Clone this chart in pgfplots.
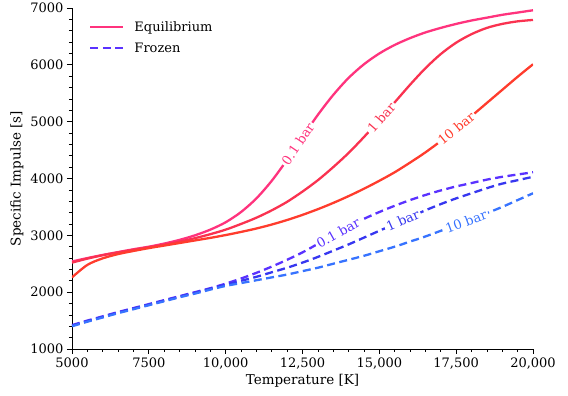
\documentclass[border=0pt]{standalone}
\usepackage{fontspec}
\setmainfont{DejaVu Serif}
\usepackage{pgfplots}
\pgfplotsset{compat=1.18}
\definecolor{eqa}{RGB}{255,51,125}
\definecolor{eqb}{RGB}{250,50,80}
\definecolor{eqc}{RGB}{255,60,45}
\definecolor{fra}{RGB}{90,50,255}
\definecolor{frb}{RGB}{55,55,240}
\definecolor{frc}{RGB}{55,115,255}
\tikzset{lbl/.style={pos=#1, sloped, fill=white, inner sep=2pt, font=\fontsize{13}{15}\selectfont},
  sol/.style={line width=2.3pt, line join=round},
  dsh/.style={line width=2.3pt, line join=round, dash pattern=on 8pt off 4.5pt}}
\begin{document}
\begin{tikzpicture}
\path[use as bounding box] (-72pt,-47pt) rectangle (496pt,349pt);
\begin{axis}[
  at={(0pt,0pt)}, anchor=south west,
  scale only axis, width=461pt, height=341pt,
  xmin=5000, xmax=20000, ymin=1000, ymax=7000,
  axis x line*=bottom, axis y line*=left,
  x axis line style={-}, y axis line style={-},
  axis line style={line width=0.8pt},
  tick align=outside, major tick length=5pt, minor tick length=3pt,
  minor x tick num=4, minor y tick num=4,
  tick style={black, line width=0.7pt},
  scaled x ticks=false, scaled y ticks=false,
  xtick={5000,7500,10000,12500,15000,17500,20000},
  xticklabels={5000,7500,{10,000},{12,500},{15,000},{17,500},{20,000}},
  ytick={1000,2000,3000,4000,5000,6000,7000},
  yticklabels={1000,2000,3000,4000,5000,6000,7000},
  ticklabel style={font=\fontsize{13}{15}\selectfont},
  xlabel={Temperature [K]}, ylabel={Specific Impulse [s]},
  label style={font=\fontsize{13.5}{15}\selectfont},
  xlabel style={yshift=2pt},
  legend style={at={(rel axis cs:0,1)}, xshift=17pt, yshift=-11pt, anchor=north west, draw=none, fill=none,
    font=\fontsize{13}{15}\selectfont, row sep=6pt, inner sep=0pt},
  legend cell align=left,
  legend image code/.code={\draw[#1] (0pt,0pt) -- (33pt,0pt); \path (41pt,0pt);},
]
\addlegendimage{eqa, sol}
\addlegendentry{Equilibrium}
\addlegendimage{fra, dsh}
\addlegendentry{Frozen}

% Equilibrium 0.1 bar
\addplot[eqa, sol, smooth, forget plot] coordinates {
(5000,2540)(5500,2600)(6000,2655)(6500,2705)(7000,2755)(7500,2800)(8000,2855)(8500,2920)
(9000,3000)(9500,3100)(10000,3230)(10500,3410)(11000,3650)(11500,3960)(12000,4330)(12500,4730)
(13000,5120)(13500,5470)(14000,5770)(14500,6010)(15000,6200)(15500,6350)(16000,6470)(16500,6570)
(17000,6650)(17500,6720)(18000,6780)(18500,6830)(19000,6880)(19500,6920)(20000,6960)}
node[lbl=0.488, text=eqa] {0.1 bar};
% Equilibrium 1 bar
\addplot[eqb, sol, smooth, forget plot] coordinates {
(5000,2520)(5500,2590)(6000,2650)(6500,2700)(7000,2745)(7500,2790)(8000,2835)(8500,2890)
(9000,2950)(9500,3020)(10000,3100)(10500,3200)(11000,3310)(11500,3440)(12000,3590)(12500,3770)
(13000,3970)(13500,4200)(14000,4450)(14500,4730)(15000,5030)(15500,5340)(16000,5650)(16500,5940)
(17000,6190)(17500,6390)(18000,6540)(18500,6650)(19000,6720)(19500,6765)(20000,6790)}
node[lbl=0.664, text=eqb] {1 bar};
% Equilibrium 10 bar
\addplot[eqc, sol, smooth, forget plot] coordinates {
(5000,2260)(5500,2480)(6000,2595)(6500,2670)(7000,2725)(7500,2775)(8000,2820)(8500,2865)
(9000,2910)(9500,2955)(10000,3005)(10500,3060)(11000,3120)(11500,3190)(12000,3270)(12500,3360)
(13000,3460)(13500,3570)(14000,3690)(14500,3820)(15000,3960)(15500,4110)(16000,4280)(16500,4460)
(17000,4660)(17500,4880)(18000,5100)(18500,5330)(19000,5560)(19500,5790)(20000,6010)}
node[lbl=0.824, text=eqc] {10 bar};
% Frozen 0.1 bar
\addplot[fra, dsh, smooth, forget plot] coordinates {
(5000,1420)(5500,1500)(6000,1575)(6500,1650)(7000,1720)(7500,1790)(8000,1860)(8500,1930)
(9000,2000)(9500,2070)(10000,2150)(10500,2240)(11000,2340)(11500,2450)(12000,2570)(12500,2700)
(13000,2850)(13500,3000)(14000,3150)(14500,3290)(15000,3410)(15500,3520)(16000,3620)(16500,3710)
(17000,3790)(17500,3860)(18000,3920)(18500,3980)(19000,4030)(19500,4070)(20000,4110)}
node[lbl=0.578, text=fra] {0.1 bar};
% Frozen 1 bar
\addplot[frb, dsh, smooth, forget plot] coordinates {
(5000,1410)(5500,1490)(6000,1565)(6500,1640)(7000,1710)(7500,1780)(8000,1850)(8500,1920)
(9000,1990)(9500,2060)(10000,2130)(10500,2200)(11000,2270)(11500,2350)(12000,2430)(12500,2520)
(13000,2620)(13500,2730)(14000,2840)(14500,2960)(15000,3080)(15500,3200)(16000,3320)(16500,3440)
(17000,3550)(17500,3650)(18000,3740)(18500,3830)(19000,3910)(19500,3970)(20000,4030)}
node[lbl=0.717, text=frb] {1 bar};
% Frozen 10 bar
\addplot[frc, dsh, smooth, forget plot] coordinates {
(5000,1400)(5500,1480)(6000,1555)(6500,1630)(7000,1700)(7500,1770)(8000,1840)(8500,1910)
(9000,1975)(9500,2045)(10000,2110)(10500,2160)(11000,2210)(11500,2260)(12000,2310)(12500,2370)
(13000,2430)(13500,2500)(14000,2570)(14500,2640)(15000,2720)(15500,2800)(16000,2890)(16500,2980)
(17000,3080)(17500,3180)(18000,3280)(18500,3390)(19000,3500)(19500,3620)(20000,3740)}
node[lbl=0.853, text=frc] {10 bar};
\end{axis}
\end{tikzpicture}
\end{document}
